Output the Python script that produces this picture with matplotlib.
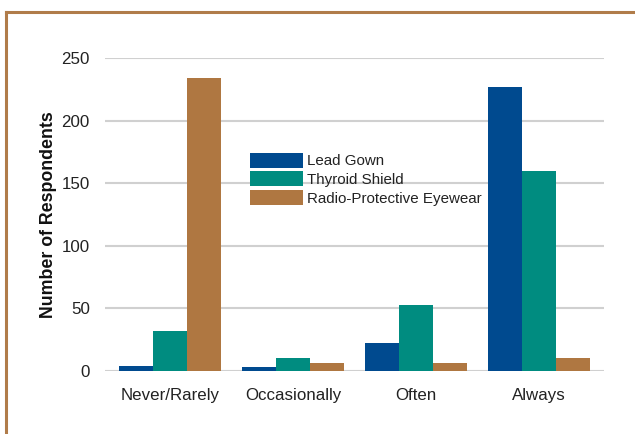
import numpy as np
import matplotlib
matplotlib.use("Agg")
import matplotlib.pyplot as plt
from matplotlib.lines import Line2D

plt.rcParams['font.family'] = ['Liberation Sans', 'DejaVu Sans']

# Survey data
categories = ["Never/Rarely", "Occasionally", "Often", "Always"]
lead_gown = [4, 3, 22, 227]
thyroid_shield = [32, 10, 53, 160]
eyewear = [234, 6, 6, 10]
series_names = ["Lead Gown", "Thyroid Shield", "Radio-Protective Eyewear"]
colors = ["#004a8f", "#008c80", "#af7741"]

fig = plt.figure(figsize=(6.35, 4.34), dpi=100)
ax = fig.add_axes([105/635, 1 - 371/434, (604 - 105)/635, (371 - 58)/434])

x = np.arange(len(categories))
w = 0.277
for i, (vals, name, c) in enumerate(zip([lead_gown, thyroid_shield, eyewear], series_names, colors)):
    ax.bar(x + (i - 1) * w, vals, width=w, color=c, label=name, zorder=3)

ax.set_xlim(-0.53, 3.53)
ax.set_ylim(0, 250)
ax.set_yticks([0, 50, 100, 150, 200, 250])
ax.grid(axis='y', color='#d0d0d0', linewidth=1.5, zorder=0)
for s in ax.spines.values():
    s.set_visible(False)
ax.tick_params(axis='both', length=0, labelsize=12.2, colors='#222222')
ax.tick_params(axis='y', pad=11)
ax.tick_params(axis='x', pad=12)
ax.set_xticks(x)
ax.set_xticklabels(categories)
ax.set_ylabel("Number of Respondents", fontsize=12.8, fontweight='bold', color='#111111')
ax.yaxis.set_label_coords(-0.096, 0.5)

ax.legend(loc='upper left', bbox_to_anchor=(0.276, 0.722), frameon=False, fontsize=10.9,
          handlelength=3.5, handleheight=1.15, labelspacing=0.2, handletextpad=0.25,
          borderpad=0, labelcolor='#222222')

# frame border (top and left)
fig.add_artist(Line2D([6/635, 1], [1 - 12/434, 1 - 12/434], color='#b07c4a', linewidth=2.2))
fig.add_artist(Line2D([6/635, 6/635], [0, 1 - 12/434], color='#b07c4a', linewidth=2.2))

fig.savefig("out.png", dpi=100)
